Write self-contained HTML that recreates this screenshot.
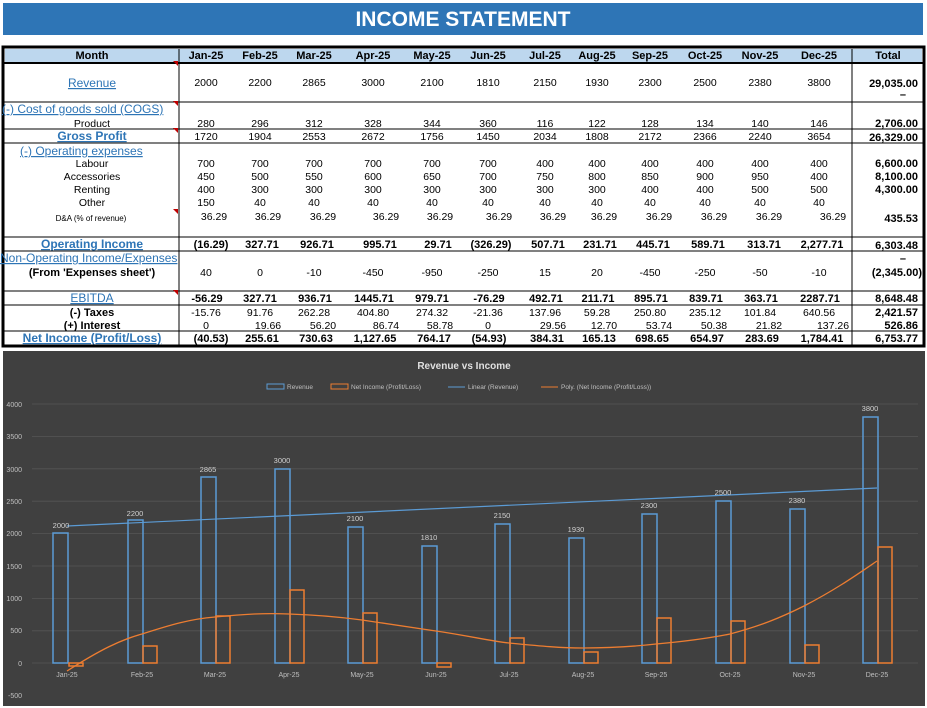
<!DOCTYPE html>
<html><head><meta charset="utf-8"><style>
html,body{margin:0;padding:0;background:#fff;}
svg{display:block;font-family:"Liberation Sans",sans-serif;}
.h{font-weight:bold;font-size:11px;fill:#000;text-anchor:middle}
.n{font-size:10.5px;fill:#000;text-anchor:middle}
.b{font-size:11px;font-weight:bold;fill:#000;text-anchor:middle}
.t{font-size:11px;font-weight:bold;fill:#000;text-anchor:end}
.l{font-size:12px;fill:#2e75b6;text-decoration:underline;text-anchor:middle}
.ll{font-size:12px;fill:#2e75b6;text-decoration:underline;text-anchor:start}
.lab{font-size:10.5px;fill:#000;text-anchor:middle}
.g{font-size:7px;fill:#bfbfbf}
.d{font-size:7.5px;fill:#d0d0d0;text-anchor:middle}
</style></head><body>
<svg width="927" height="708" viewBox="0 0 927 708">
<rect x="0" y="0" width="927" height="708" fill="#fff"/>
<rect x="3" y="3" width="920" height="32" fill="#2e75b6"/>
<text x="463" y="26" font-size="21" font-weight="bold" fill="#fff" text-anchor="middle">INCOME STATEMENT</text>

<rect x="3" y="47" width="921" height="299" fill="#fff" stroke="#000" stroke-width="3"/>
<rect x="5" y="49" width="917" height="13" fill="#bdd7ee"/>
<line x1="4" y1="63" x2="924" y2="63" stroke="#000" stroke-width="2"/>
<line x1="179" y1="49" x2="179" y2="345" stroke="#000" stroke-width="1"/>
<line x1="852" y1="49" x2="852" y2="345" stroke="#000" stroke-width="1"/>
<g stroke="#000" stroke-width="1">
<line x1="4" y1="102" x2="924" y2="102"/>
<line x1="4" y1="129" x2="924" y2="129"/>
<line x1="4" y1="143" x2="924" y2="143"/>
<line x1="4" y1="237" x2="924" y2="237"/>
<line x1="4" y1="251" x2="924" y2="251"/>
<line x1="4" y1="291" x2="924" y2="291"/>
<line x1="4" y1="305" x2="924" y2="305"/>
<line x1="4" y1="331" x2="924" y2="331"/>
</g>
<g class="h">
<text x="92" y="59" class="h">Month</text>
<text x="206" y="59" class="h">Jan-25</text><text x="260" y="59" class="h">Feb-25</text><text x="314" y="59" class="h">Mar-25</text><text x="373" y="59" class="h">Apr-25</text><text x="432" y="59" class="h">May-25</text><text x="488" y="59" class="h">Jun-25</text><text x="545" y="59" class="h">Jul-25</text><text x="597" y="59" class="h">Aug-25</text><text x="650" y="59" class="h">Sep-25</text><text x="705" y="59" class="h">Oct-25</text><text x="760" y="59" class="h">Nov-25</text><text x="819" y="59" class="h">Dec-25</text><text x="888" y="59" class="h">Total</text>
</g>
<text x="92" y="87" class="l">Revenue</text>
<text x="2" y="113" class="ll">(-) Cost of goods sold (COGS)</text>
<text x="92" y="127" class="lab">Product</text>
<text x="92" y="140" class="l" font-weight="bold">Gross Profit</text>
<text x="20" y="155" class="ll">(-) Operating expenses</text>
<text x="92" y="167" class="lab">Labour</text>
<text x="92" y="180" class="lab">Accessories</text>
<text x="92" y="193" class="lab">Renting</text>
<text x="92" y="206" class="lab">Other</text>
<text x="91" y="221" font-size="8" text-anchor="middle">D&amp;A (% of revenue)</text>
<text x="92" y="248" class="l" font-weight="bold">Operating Income</text>
<text x="0" y="262" class="ll">Non-Operating Income/Expenses</text>
<text x="92" y="276" class="b" font-size="10.5">(From 'Expenses sheet')</text>
<text x="92" y="302" class="l">EBITDA</text>
<text x="92" y="316" class="b">(-) Taxes</text>
<text x="92" y="329" class="b">(+) Interest</text>
<text x="92" y="342" class="l" font-weight="bold">Net Income (Profit/Loss)</text>
<g fill="#c00000"><polygon points="173,61 178,61 178,66"/><polygon points="173,101 178,101 178,106"/><polygon points="173,128 178,128 178,133"/><polygon points="173,209 178,209 178,214"/><polygon points="173,290 178,290 178,295"/></g>

<g class="n">
<text x="206" y="86" class="n">2000</text><text x="260" y="86" class="n">2200</text><text x="314" y="86" class="n">2865</text><text x="373" y="86" class="n">3000</text><text x="432" y="86" class="n">2100</text><text x="488" y="86" class="n">1810</text><text x="545" y="86" class="n">2150</text><text x="597" y="86" class="n">1930</text><text x="650" y="86" class="n">2300</text><text x="705" y="86" class="n">2500</text><text x="760" y="86" class="n">2380</text><text x="819" y="86" class="n">3800</text>
<text x="206" y="127" class="n">280</text><text x="260" y="127" class="n">296</text><text x="314" y="127" class="n">312</text><text x="373" y="127" class="n">328</text><text x="432" y="127" class="n">344</text><text x="488" y="127" class="n">360</text><text x="545" y="127" class="n">116</text><text x="597" y="127" class="n">122</text><text x="650" y="127" class="n">128</text><text x="705" y="127" class="n">134</text><text x="760" y="127" class="n">140</text><text x="819" y="127" class="n">146</text>
<text x="206" y="140" class="n">1720</text><text x="260" y="140" class="n">1904</text><text x="314" y="140" class="n">2553</text><text x="373" y="140" class="n">2672</text><text x="432" y="140" class="n">1756</text><text x="488" y="140" class="n">1450</text><text x="545" y="140" class="n">2034</text><text x="597" y="140" class="n">1808</text><text x="650" y="140" class="n">2172</text><text x="705" y="140" class="n">2366</text><text x="760" y="140" class="n">2240</text><text x="819" y="140" class="n">3654</text>
<text x="206" y="167" class="n">700</text><text x="260" y="167" class="n">700</text><text x="314" y="167" class="n">700</text><text x="373" y="167" class="n">700</text><text x="432" y="167" class="n">700</text><text x="488" y="167" class="n">700</text><text x="545" y="167" class="n">400</text><text x="597" y="167" class="n">400</text><text x="650" y="167" class="n">400</text><text x="705" y="167" class="n">400</text><text x="760" y="167" class="n">400</text><text x="819" y="167" class="n">400</text>
<text x="206" y="180" class="n">450</text><text x="260" y="180" class="n">500</text><text x="314" y="180" class="n">550</text><text x="373" y="180" class="n">600</text><text x="432" y="180" class="n">650</text><text x="488" y="180" class="n">700</text><text x="545" y="180" class="n">750</text><text x="597" y="180" class="n">800</text><text x="650" y="180" class="n">850</text><text x="705" y="180" class="n">900</text><text x="760" y="180" class="n">950</text><text x="819" y="180" class="n">400</text>
<text x="206" y="193" class="n">400</text><text x="260" y="193" class="n">300</text><text x="314" y="193" class="n">300</text><text x="373" y="193" class="n">300</text><text x="432" y="193" class="n">300</text><text x="488" y="193" class="n">300</text><text x="545" y="193" class="n">300</text><text x="597" y="193" class="n">300</text><text x="650" y="193" class="n">400</text><text x="705" y="193" class="n">400</text><text x="760" y="193" class="n">500</text><text x="819" y="193" class="n">500</text>
<text x="206" y="206" class="n">150</text><text x="260" y="206" class="n">40</text><text x="314" y="206" class="n">40</text><text x="373" y="206" class="n">40</text><text x="432" y="206" class="n">40</text><text x="488" y="206" class="n">40</text><text x="545" y="206" class="n">40</text><text x="597" y="206" class="n">40</text><text x="650" y="206" class="n">40</text><text x="705" y="206" class="n">40</text><text x="760" y="206" class="n">40</text><text x="819" y="206" class="n">40</text>
<text x="214" y="220" class="n">36.29</text><text x="268" y="220" class="n">36.29</text><text x="323" y="220" class="n">36.29</text><text x="386" y="220" class="n">36.29</text><text x="440" y="220" class="n">36.29</text><text x="499" y="220" class="n">36.29</text><text x="553" y="220" class="n">36.29</text><text x="604" y="220" class="n">36.29</text><text x="659" y="220" class="n">36.29</text><text x="714" y="220" class="n">36.29</text><text x="769" y="220" class="n">36.29</text><text x="833" y="220" class="n">36.29</text>
<text x="206" y="276" class="n">40</text><text x="260" y="276" class="n">0</text><text x="314" y="276" class="n">-10</text><text x="373" y="276" class="n">-450</text><text x="432" y="276" class="n">-950</text><text x="488" y="276" class="n">-250</text><text x="545" y="276" class="n">15</text><text x="597" y="276" class="n">20</text><text x="650" y="276" class="n">-450</text><text x="705" y="276" class="n">-250</text><text x="760" y="276" class="n">-50</text><text x="819" y="276" class="n">-10</text>
<text x="206" y="316" class="n">-15.76</text><text x="260" y="316" class="n">91.76</text><text x="314" y="316" class="n">262.28</text><text x="373" y="316" class="n">404.80</text><text x="432" y="316" class="n">274.32</text><text x="488" y="316" class="n">-21.36</text><text x="545" y="316" class="n">137.96</text><text x="597" y="316" class="n">59.28</text><text x="650" y="316" class="n">250.80</text><text x="705" y="316" class="n">235.12</text><text x="760" y="316" class="n">101.84</text><text x="819" y="316" class="n">640.56</text>
<text x="206" y="329" class="n">0</text><text x="268" y="329" class="n">19.66</text><text x="323" y="329" class="n">56.20</text><text x="386" y="329" class="n">86.74</text><text x="440" y="329" class="n">58.78</text><text x="488" y="329" class="n">0</text><text x="553" y="329" class="n">29.56</text><text x="604" y="329" class="n">12.70</text><text x="659" y="329" class="n">53.74</text><text x="714" y="329" class="n">50.38</text><text x="769" y="329" class="n">21.82</text><text x="833" y="329" class="n">137.26</text>
</g>
<g>
<text x="211" y="248" class="b">(16.29)</text><text x="262" y="248" class="b">327.71</text><text x="317" y="248" class="b">926.71</text><text x="380" y="248" class="b">995.71</text><text x="438" y="248" class="b">29.71</text><text x="491" y="248" class="b">(326.29)</text><text x="548" y="248" class="b">507.71</text><text x="600" y="248" class="b">231.71</text><text x="653" y="248" class="b">445.71</text><text x="708" y="248" class="b">589.71</text><text x="764" y="248" class="b">313.71</text><text x="822" y="248" class="b">2,277.71</text>
<text x="207" y="302" class="b">-56.29</text><text x="260" y="302" class="b">327.71</text><text x="315" y="302" class="b">936.71</text><text x="374" y="302" class="b">1445.71</text><text x="432" y="302" class="b">979.71</text><text x="489" y="302" class="b">-76.29</text><text x="546" y="302" class="b">492.71</text><text x="598" y="302" class="b">211.71</text><text x="651" y="302" class="b">895.71</text><text x="706" y="302" class="b">839.71</text><text x="761" y="302" class="b">363.71</text><text x="820" y="302" class="b">2287.71</text>
<text x="211" y="342" class="b">(40.53)</text><text x="262" y="342" class="b">255.61</text><text x="316" y="342" class="b">730.63</text><text x="375" y="342" class="b">1,127.65</text><text x="434" y="342" class="b">764.17</text><text x="489" y="342" class="b">(54.93)</text><text x="547" y="342" class="b">384.31</text><text x="599" y="342" class="b">165.13</text><text x="652" y="342" class="b">698.65</text><text x="707" y="342" class="b">654.97</text><text x="762" y="342" class="b">283.69</text><text x="822" y="342" class="b">1,784.41</text>
</g>
<g class="t">
<text x="918" y="87" class="t">29,035.00</text><text x="906" y="98" class="t">–</text>
<text x="918" y="127" class="t">2,706.00</text>
<text x="918" y="141" class="t">26,329.00</text>
<text x="918" y="167" class="t">6,600.00</text>
<text x="918" y="180" class="t">8,100.00</text>
<text x="918" y="193" class="t">4,300.00</text>
<text x="918" y="222" class="t">435.53</text>
<text x="918" y="249" class="t">6,303.48</text>
<text x="906" y="262" class="t">–</text>
<text x="922" y="276" class="t">(2,345.00)</text>
<text x="918" y="302" class="t">8,648.48</text>
<text x="918" y="316" class="t">2,421.57</text>
<text x="918" y="329" class="t">526.86</text>
<text x="918" y="342" class="t">6,753.77</text>
</g>

<rect x="3" y="351" width="922" height="355" fill="#404040"/>
<text x="464" y="369" font-size="10" font-weight="bold" fill="#e0e0e0" text-anchor="middle">Revenue vs Income</text>
<g font-size="6.5" fill="#bfbfbf">
<rect x="267" y="384" width="17" height="5" fill="none" stroke="#5b9bd5"/><text x="287" y="389">Revenue</text>
<rect x="331" y="384" width="17" height="5" fill="none" stroke="#ed7d31"/><text x="351" y="389">Net Income (Profit/Loss)</text>
<line x1="448" y1="387" x2="465" y2="387" stroke="#5b9bd5"/><text x="468" y="389">Linear (Revenue)</text>
<line x1="541" y1="387" x2="558" y2="387" stroke="#ed7d31"/><text x="561" y="389">Poly. (Net Income (Profit/Loss))</text>
</g>
<g stroke="#555" stroke-width="0.8">
<line x1="32" y1="404" x2="918" y2="404"/><line x1="32" y1="436.4" x2="918" y2="436.4"/><line x1="32" y1="468.8" x2="918" y2="468.8"/><line x1="32" y1="501.2" x2="918" y2="501.2"/><line x1="32" y1="533.6" x2="918" y2="533.6"/><line x1="32" y1="566" x2="918" y2="566"/><line x1="32" y1="598.4" x2="918" y2="598.4"/><line x1="32" y1="630.8" x2="918" y2="630.8"/><line x1="32" y1="663" x2="918" y2="663"/>
</g>
<g class="g" text-anchor="end">
<text x="22" y="407">4000</text><text x="22" y="439">3500</text><text x="22" y="472">3000</text><text x="22" y="504">2500</text><text x="22" y="536">2000</text><text x="22" y="569">1500</text><text x="22" y="601">1000</text><text x="22" y="633">500</text><text x="22" y="666">0</text><text x="22" y="698">-500</text>
</g>
<g fill="none" stroke="#5b9bd5" stroke-width="1.5">
<rect x="53" y="533" width="15" height="130"/><rect x="128" y="520" width="15" height="143"/><rect x="201" y="477" width="15" height="186"/><rect x="275" y="469" width="15" height="194"/><rect x="348" y="527" width="15" height="136"/><rect x="422" y="546" width="15" height="117"/><rect x="495" y="524" width="15" height="139"/><rect x="569" y="538" width="15" height="125"/><rect x="642" y="514" width="15" height="149"/><rect x="716" y="501" width="15" height="162"/><rect x="790" y="509" width="15" height="154"/><rect x="863" y="417" width="15" height="246"/>
</g>
<g fill="none" stroke="#ed7d31" stroke-width="1.5">
<rect x="69" y="663" width="14" height="3"/><rect x="143" y="646" width="14" height="17"/><rect x="216" y="616" width="14" height="47"/><rect x="290" y="590" width="14" height="73"/><rect x="363" y="613" width="14" height="50"/><rect x="437" y="663" width="14" height="4"/><rect x="510" y="638" width="14" height="25"/><rect x="584" y="652" width="14" height="11"/><rect x="657" y="618" width="14" height="45"/><rect x="731" y="621" width="14" height="42"/><rect x="805" y="645" width="14" height="18"/><rect x="878" y="547" width="14" height="116"/>
</g>
<line x1="67" y1="526" x2="877" y2="488" stroke="#5b9bd5" stroke-width="1.2"/>
<path d="M67,671 C100,650 120,640 142,634 C170,625 190,619 215,617 C245,614 265,613 289,614 C320,615 340,617 362,620 C395,625 415,628 436,631 C470,636 490,641 509,643 C540,646 560,648 583,648 C610,648 630,647 656,644 C690,641 710,638 730,634 C760,626 780,618 804,606 C835,590 855,576 877,561" fill="none" stroke="#ed7d31" stroke-width="1.3"/>
<g class="d">
<text x="61" y="528">2000</text><text x="135" y="516">2200</text><text x="208" y="472">2865</text><text x="282" y="463">3000</text><text x="355" y="521">2100</text><text x="429" y="540">1810</text><text x="502" y="518">2150</text><text x="576" y="532">1930</text><text x="649" y="508">2300</text><text x="723" y="495">2500</text><text x="797" y="503">2380</text><text x="870" y="411">3800</text>
</g>
<g class="g" text-anchor="middle">
<text x="67" y="677">Jan-25</text><text x="142" y="677">Feb-25</text><text x="215" y="677">Mar-25</text><text x="289" y="677">Apr-25</text><text x="362" y="677">May-25</text><text x="436" y="677">Jun-25</text><text x="509" y="677">Jul-25</text><text x="583" y="677">Aug-25</text><text x="656" y="677">Sep-25</text><text x="730" y="677">Oct-25</text><text x="804" y="677">Nov-25</text><text x="877" y="677">Dec-25</text>
</g>
</svg>
</body></html>
